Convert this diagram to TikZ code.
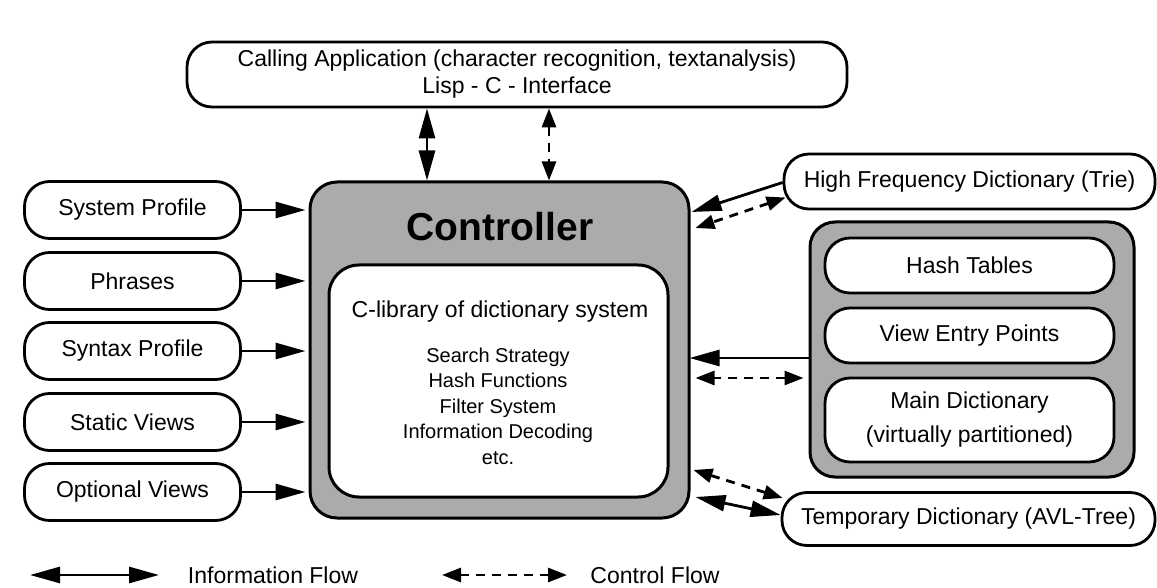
\documentclass[tikz,border=0pt]{standalone}
\usepackage{fontspec}
\setmainfont{Liberation Sans}
\usetikzlibrary{calc}
\usetikzlibrary{arrows.meta}

\begin{document}
\begin{tikzpicture}[x=1pt,y=-1pt,
  pill/.style={draw=black,line width=2.8pt,rounded corners=25pt,fill=white,inner sep=0pt,align=center,font=\fontsize{23}{27}\selectfont},
  shaded/.style={draw=black,line width=3pt,rounded corners=27pt,fill=black!33,inner sep=0pt},
  info/.style={line width=2.8pt,-{Triangle[length=30pt,width=16pt]}},
  infoboth/.style={line width=2.8pt,{Triangle[length=30pt,width=16pt]}-{Triangle[length=30pt,width=16pt]}},
  ctrlflow/.style={line width=2.8pt,dash pattern=on 9pt off 7pt,{Triangle[length=19pt,width=14pt]}-{Triangle[length=19pt,width=14pt]}},
  legendtext/.style={font=\fontsize{23}{27}\selectfont}
]

\useasboundingbox (0,0) rectangle (1157,588);

\node[pill,minimum width=660pt,minimum height=65pt] (app) at (517,74.5) {Calling Application (character recognition, textanalysis)\\Lisp - C - Interface};

\node[shaded,minimum width=379pt,minimum height=336pt] (ctrl) at (499.5,350) {};
\node[font=\fontsize{39}{40}\selectfont\bfseries] (ctrltitle) at (500,227) {Controller};
\node[pill,line width=3pt,rounded corners=30pt,minimum width=339pt,minimum height=232pt] (lib) at (498.5,381) {};
\node[legendtext] (libhead) at (500,312) {C-library of dictionary system};
\node[align=center,font=\fontsize{20}{25.5}\selectfont] (liblist) at (498,406) {Search Strategy\\Hash Functions\\Filter System\\Information Decoding\\etc.};

\node[pill,minimum width=216pt,minimum height=57pt] (sysprof) at (132.5,210) {System Profile};
\node[pill,minimum width=216pt,minimum height=57pt] (phrases) at (132.5,281) {Phrases};
\node[pill,minimum width=216pt,minimum height=57pt] (synprof) at (132.5,351) {Syntax Profile};
\node[pill,minimum width=216pt,minimum height=57pt] (statviews) at (132.5,422) {Static Views};
\node[pill,minimum width=216pt,minimum height=57pt] (optviews) at (132.5,492) {Optional Views};

\node[pill,minimum width=371pt,minimum height=55pt] (hf) at (969.5,181.5) {High Frequency Dictionary (Trie)};
\node[shaded,rounded corners=25pt,minimum width=324pt,minimum height=255pt] (dict) at (972,349.5) {};
\node[pill,minimum width=289pt,minimum height=55pt] (hash) at (969.5,265.5) {Hash Tables};
\node[pill,minimum width=289pt,minimum height=55pt] (entry) at (969.5,335.5) {View Entry Points};
\node[pill,minimum width=289pt,minimum height=84pt] (maindict) at (969.5,420) {Main Dictionary\\[7pt](virtually partitioned)};
\node[pill,minimum width=373pt,minimum height=53pt] (temp) at (968.5,519) {Temporary Dictionary (AVL-Tree)};

\draw[infoboth] ([xshift=-90pt]app.south) -- ([xshift=-90pt]app.south |- ctrl.north);
\draw[ctrlflow] ([xshift=32pt]app.south) -- ([xshift=32pt]app.south |- ctrl.north);

\draw[info,shorten >=3pt] (sysprof.east) -- (sysprof.east -| ctrl.west);
\draw[info,shorten >=3pt] (phrases.east) -- (phrases.east -| ctrl.west);
\draw[info,shorten >=3pt] (synprof.east) -- (synprof.east -| ctrl.west);
\draw[info,shorten >=3pt] (statviews.east) -- (statviews.east -| ctrl.west);
\draw[info,shorten >=3pt] (optviews.east) -- (optviews.east -| ctrl.west);

\draw[info] ([yshift=-1pt]hf.west) -- ([shift={(1pt,138pt)}]ctrl.east);
\draw[ctrlflow] ([shift={(3pt,-16pt)}]hf.west) -- ([shift={(5pt,122pt)}]ctrl.east);

\draw[info] ([yshift=-8.5pt]dict.west) -- ([shift={(-1pt,-8pt)}]ctrl.east);
\draw[ctrlflow] ([shift={(-5pt,-28.5pt)}]dict.west) -- ([shift={(5pt,-28pt)}]ctrl.east);

\draw[ctrlflow] ([shift={(3pt,-120pt)}]ctrl.east) -- ([shift={(2pt,21pt)}]temp.west);
\draw[infoboth] ([shift={(5pt,-147pt)}]ctrl.east) -- ([yshift=4pt]temp.west);

\coordinate (infoL) at (30,575);
\coordinate (infoR) at (159,575);
\coordinate (ctrlL) at (442,575);
\coordinate (ctrlR) at (567,575);

\draw[infoboth] (infoL) -- (infoR);
\node[legendtext] (infotext) at (273,575) {Information Flow};
\draw[ctrlflow] (ctrlL) -- (ctrlR);
\node[legendtext] (ctrltext) at (655,575) {Control Flow};

\end{tikzpicture}
\end{document}
